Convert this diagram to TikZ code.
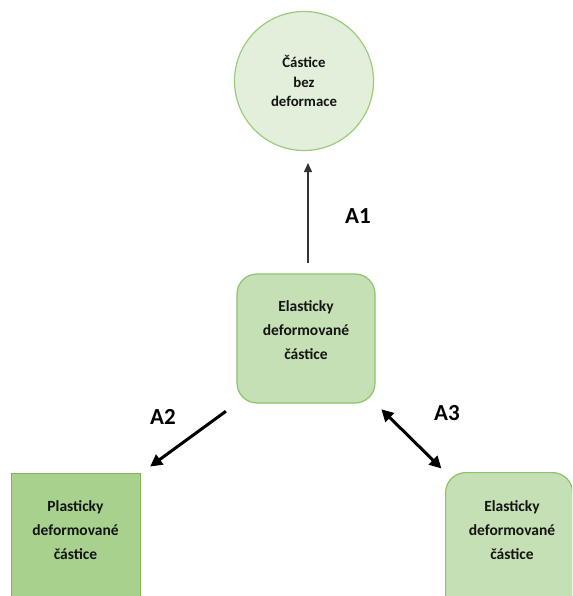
\documentclass[tikz,border=0pt]{standalone}
\usepackage{fontspec}
\setmainfont{Carlito}
\usetikzlibrary{arrows.meta}
\definecolor{cfill}{HTML}{E2EFDA}
\definecolor{cdraw}{HTML}{9CCB7C}
\definecolor{mfill}{HTML}{C5E0B4}
\definecolor{mdraw}{HTML}{8DC26A}
\definecolor{pfill}{HTML}{A9D18E}
\definecolor{pdraw}{HTML}{7DB656}
\definecolor{txt}{HTML}{141414}
\tikzset{
  every node/.style={font=\bfseries, text=txt},
  boxtext/.style={align=center, font=\fontsize{15.5}{24}\selectfont\bfseries},
  lbl/.style={font=\fontsize{23}{26}\selectfont\bfseries, text=black},
  thinarrow/.style={draw=black!80, line width=1.3pt, -{Triangle[length=9pt,width=8pt]}},
  thickarrow/.style={draw=black, line width=3pt, -{Triangle[length=12pt,width=12pt]}},
  dblarrow/.style={draw=black, line width=3pt, {Triangle[length=12pt,width=12pt]}-{Triangle[length=12pt,width=12pt]}},
}
\begin{document}
\begin{tikzpicture}[x=1pt,y=-1pt]
\useasboundingbox (0,0) rectangle (572,596);
\clip (0,0) rectangle (572,596);
% circle
\node[circle, draw=cdraw, line width=1.2pt, fill=cfill, minimum size=139pt, inner sep=0pt] (circ) at (304,81) {};
\node[align=center, font=\fontsize{14.8}{19.5}\selectfont\bfseries] (circT) at (304,81) {Částice\\bez\\deformace};
% middle box
\node[rectangle, rounded corners=20pt, draw=mdraw, line width=1.2pt, fill=mfill, minimum width=138pt, minimum height=129pt, inner sep=0pt] (mid) at (306,338.5) {};
\node[boxtext] (midT) at (306,330) {Elasticky\\deformované\\částice};
% left box
\node[rectangle, draw=pdraw, line width=1.2pt, fill=pfill, minimum width=129pt, minimum height=150pt, inner sep=0pt, anchor=north west] (plast) at (11,473) {};
\node[boxtext] (plastT) at (75.5,530) {Plasticky\\deformované\\částice};
% right box
\node[rectangle, rounded corners=20pt, draw=mdraw, line width=1.2pt, fill=mfill, minimum width=127pt, minimum height=150pt, inner sep=0pt, anchor=north west] (elast) at (445,472) {};
\node[boxtext] (elastT) at (512,530) {Elasticky\\deformované\\částice};
% arrows
\coordinate (a1s) at (308,263);
\coordinate (a1e) at (308,163);
\draw[thinarrow] (a1s) -- (a1e);
\draw[thickarrow, shorten <=13pt, shorten >=11pt] (mid.south west) -- (plast.north east);
\draw[dblarrow, shorten <=8pt, shorten >=5pt] (mid.south east) -- (elast.north west);
% labels
\node[lbl] (A1) at (358,216) {A1};
\node[lbl] (A2) at (163,417) {A2};
\node[lbl] (A3) at (447,413) {A3};
\end{tikzpicture}
\end{document}
